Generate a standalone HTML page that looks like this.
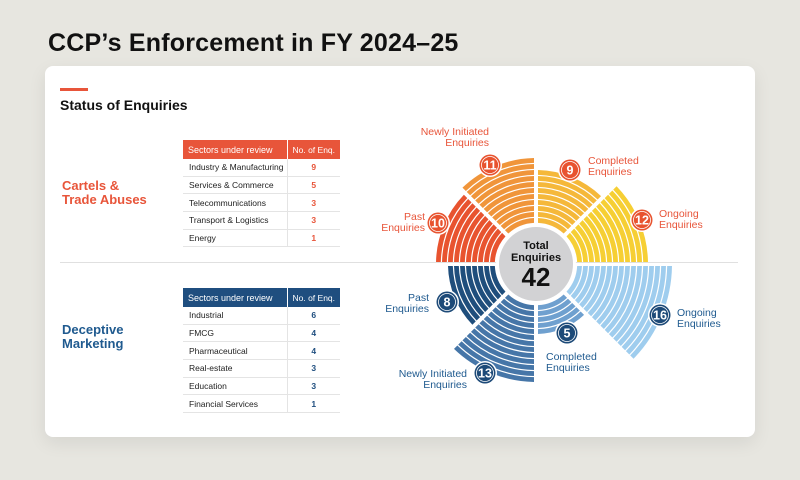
<!DOCTYPE html>
<html><head><meta charset="utf-8"><style>
body{margin:0;width:800px;height:480px;background:#e7e6e0;font-family:"Liberation Sans",sans-serif;position:relative;overflow:hidden}
.t{position:absolute;white-space:nowrap}
.card{position:absolute;left:45px;top:66px;width:710px;height:371px;background:#fff;border-radius:8px;box-shadow:0 6px 18px rgba(0,0,0,0.08)}
table{position:absolute;border-collapse:collapse;font-size:8.5px;color:#222;table-layout:fixed}
td{height:16.7px;padding:0 0 0 6px;border-bottom:1px solid #e4e4e4;white-space:nowrap}
td.n{text-align:center;padding:0;border-left:1px solid #e4e4e4;font-weight:bold}
th{height:19px;color:#fff;font-weight:normal;text-align:left;padding:0 0 0 5px;font-size:9px;white-space:nowrap}
th.n{text-align:center;padding:0;border-left:1px solid #fff;font-size:8.5px}
</style></head><body>
<div class="t" style="left:48px;top:29px;font-size:25px;font-weight:bold;color:#111;letter-spacing:0.2px">CCP’s Enforcement in FY 2024–25</div>
<div class="card"></div>
<div style="position:absolute;left:60px;top:88px;width:28px;height:3px;background:#e8553a"></div>
<div class="t" style="left:60px;top:97px;font-size:14px;font-weight:bold;color:#111">Status of Enquiries</div>
<div style="position:absolute;left:60px;top:262px;width:678px;height:1px;background:#e0e0e0"></div>
<div class="t" style="left:62px;top:179px;font-size:13px;font-weight:bold;color:#e8553a;line-height:14px">Cartels &amp;<br>Trade Abuses</div>
<div class="t" style="left:62px;top:323px;font-size:13px;font-weight:bold;color:#1f5a8f;line-height:14px">Deceptive<br>Marketing</div>
<table style="left:183px;top:140px;width:157px">
<colgroup><col style="width:104px"><col style="width:53px"></colgroup>
<tr style="background:#e8553a"><th>Sectors under review</th><th class="n">No. of Enq.</th></tr>
<tr><td>Industry &amp; Manufacturing</td><td class="n" style="color:#e8553a">9</td></tr>
<tr><td>Services &amp; Commerce</td><td class="n" style="color:#e8553a">5</td></tr>
<tr><td>Telecommunications</td><td class="n" style="color:#e8553a">3</td></tr>
<tr><td>Transport &amp; Logistics</td><td class="n" style="color:#e8553a">3</td></tr>
<tr><td>Energy</td><td class="n" style="color:#e8553a">1</td></tr>
</table>
<table style="left:183px;top:288px;width:157px">
<colgroup><col style="width:104px"><col style="width:53px"></colgroup>
<tr style="background:#1f4e7f"><th>Sectors under review</th><th class="n">No. of Enq.</th></tr>
<tr><td>Industrial</td><td class="n" style="color:#1f4e7f">6</td></tr>
<tr><td>FMCG</td><td class="n" style="color:#1f4e7f">4</td></tr>
<tr><td>Pharmaceutical</td><td class="n" style="color:#1f4e7f">4</td></tr>
<tr><td>Real-estate</td><td class="n" style="color:#1f4e7f">3</td></tr>
<tr><td>Education</td><td class="n" style="color:#1f4e7f">3</td></tr>
<tr><td>Financial Services</td><td class="n" style="color:#1f4e7f">1</td></tr>
</table>
<svg id="s" width="800" height="480" style="position:absolute;left:0;top:0" font-family="Liberation Sans, sans-serif"></svg>
<script>
var cx=536,cy=264,R0=40,B=6,s=document.getElementById('s'),h='';
function p(r,a){a=a*Math.PI/180;return (cx+r*Math.cos(a)).toFixed(2)+','+(cy+r*Math.sin(a)).toFixed(2);}
var secs=[[180,225,10,'#e8532f'],[225,270,11,'#f0953a'],[270,315,9,'#f5b83a'],[315,360,12,'#f6cf34'],
[0,45,16,'#9fcdee'],[45,90,5,'#6fa0cf'],[90,135,13,'#4676a8'],[135,180,8,'#1f4e7c']];
secs.forEach(function(q){
 for(var k=0;k<q[2];k++){var r1=R0+B*k+1.2,r2=R0+B*(k+1);
  var g1=2/r1*180/Math.PI,g2=2/r2*180/Math.PI;
  var a1=q[0]+g1,a2=q[1]-g1,b1=q[0]+g2,b2=q[1]-g2;
  h+='<path fill="'+q[3]+'" d="M'+p(r1,a1)+' L'+p(r2,b1)+' A'+r2+','+r2+' 0 0 1 '+p(r2,b2)+' L'+p(r1,a2)+' A'+r1+','+r1+' 0 0 0 '+p(r1,a1)+'Z"/>';}});
h+='<circle cx="'+cx+'" cy="'+cy+'" r="40" fill="#fff"/><circle cx="'+cx+'" cy="'+cy+'" r="37" fill="#d2d2d4"/>';
h+='<text x="'+cx+'" y="'+(cy-15)+'" text-anchor="middle" font-size="11" font-weight="bold" fill="#111">Total</text>';
h+='<text x="'+cx+'" y="'+(cy-3)+'" text-anchor="middle" font-size="11" font-weight="bold" fill="#111">Enquiries</text>';
h+='<text x="'+cx+'" y="'+(cy+22)+'" text-anchor="middle" font-size="26" font-weight="bold" fill="#111">42</text>';
var b=[[438,223,'10','#e8532f'],[490,165,'11','#e8532f'],[570,170,'9','#e8532f'],[642,220,'12','#e8532f'],
[447,302,'8','#1d4a78'],[567,333,'5','#1d4a78'],[485,373,'13','#1d4a78'],[660,315,'16','#1d4a78']];
b.forEach(function(q){h+='<circle cx="'+q[0]+'" cy="'+q[1]+'" r="12" fill="#fff"/><circle cx="'+q[0]+'" cy="'+q[1]+'" r="10.5" fill="'+q[3]+'"/><circle cx="'+q[0]+'" cy="'+q[1]+'" r="8.5" fill="none" stroke="#fff" stroke-width="0.8"/><text x="'+q[0]+'" y="'+(q[1]+4.5)+'" text-anchor="middle" font-size="12.5" font-weight="bold" fill="#fff">'+q[2]+'</text>';});
var L=[[489,135,'end','Newly Initiated','Enquiries','#e8553a'],[588,164,'start','Completed','Enquiries','#e8553a'],
[425,220,'end','Past','Enquiries','#e8553a'],[659,217,'start','Ongoing','Enquiries','#e8553a'],
[429,301,'end','Past','Enquiries','#1f5a8f'],[677,316,'start','Ongoing','Enquiries','#1f5a8f'],
[546,360,'start','Completed','Enquiries','#1f5a8f'],[467,377,'end','Newly Initiated','Enquiries','#1f5a8f']];
L.forEach(function(q){h+='<text x="'+q[0]+'" y="'+q[1]+'" text-anchor="'+q[2]+'" font-size="10.5" fill="'+q[5]+'">'+q[3]+'</text><text x="'+q[0]+'" y="'+(q[1]+11)+'" text-anchor="'+q[2]+'" font-size="10.5" fill="'+q[5]+'">'+q[4]+'</text>';});
s.innerHTML=h;
</script>
</body></html>
